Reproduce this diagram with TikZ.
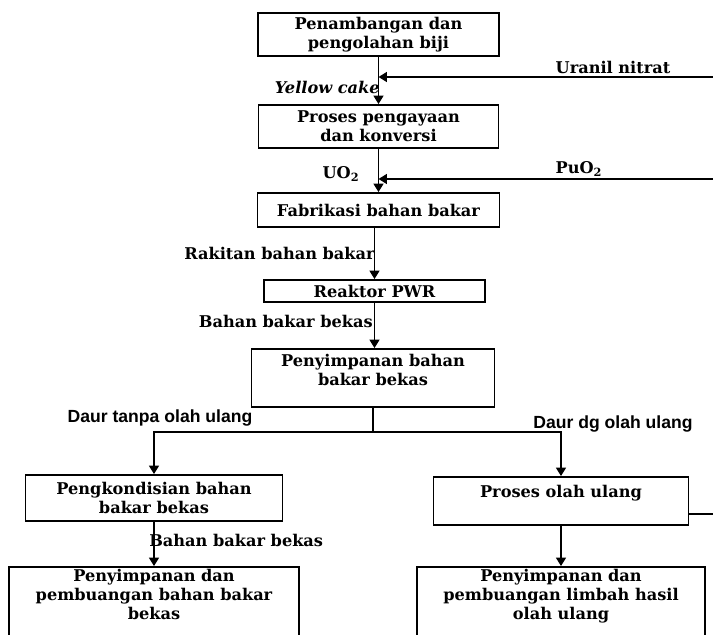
\documentclass[tikz,border=0pt]{standalone}
\usepackage{fontspec}
\setmainfont{DejaVu Serif}
\newfontfamily\labsans{Liberation Sans}
\usetikzlibrary{arrows.meta,positioning}

\begin{document}
\begin{tikzpicture}[
  x=0.025cm, y=-0.025cm,
  font=\fontsize{11.5}{13.5}\selectfont\bfseries,
  line width=1.3pt,
  box/.style={draw, rectangle, align=center, inner sep=1pt},
  wh/.style 2 args={minimum width=#1*0.7113pt, minimum height=#2*0.7113pt},
  arr/.style={-{Triangle[length=6pt,width=7pt]}},
  flow/.style={inner sep=1pt},
  cyc/.style={inner sep=1pt, font=\labsans\fontsize{12.5}{14}\selectfont\bfseries}]
\clip (0,0) rectangle (713,635);
% ---------------- front end of the cycle ----------------
\node[box, wh={241}{43}] (mine) at (378.5,34.5) {Penambangan dan\\ pengolahan biji};
\node[box, wh={240}{43}] (enrich) at (378.5,126.5) {Proses pengayaan\\ dan konversi};
\node[box, wh={242}{34}] (fab) at (378.5,210) {Fabrikasi bahan bakar};
\node[box, wh={221}{22}] (pwr) at (374.5,291) {Reaktor PWR};
\node[box, wh={243}{58}, text depth=11pt] (store) at (373,378) {Penyimpanan bahan\\ bakar bekas};
\draw[arr] (mine) -- (enrich);
\draw[arr] (enrich) -- (fab);
\draw[arr] (fab.south -| pwr.north) -- (pwr.north);
\draw[arr] (pwr.south) -- (pwr.south |- store.north);
% returns from reprocessing
\coordinate (un) at (713,77);
\coordinate (pu) at (713,179);
\draw[arr] (un) -- (un -| mine.south);
\draw[arr] (pu) -- (pu -| enrich.south);
\node[flow] (lun) at (613,67) {Uranil nitrat};
\node[flow, anchor=east, font=\fontsize{11.5}{13.5}\selectfont\bfseries\itshape] (lyc) at (382,87) {Yellow cake};
\node[flow] (luo) at (341,174) {UO\textsubscript{2}};
\node[flow] (lpu) at (579,169) {PuO\textsubscript{2}};
\node[flow, anchor=east] (lrak) at (377,253) {Rakitan bahan bakar};
\node[flow, anchor=east] (lbek) at (375,321) {Bahan bakar bekas};
% ---------------- back end: two options ----------------
\node[box, wh={257}{46}] (cond) at (154,498) {Pengkondisian bahan\\ bakar bekas};
\node[box, wh={255}{48}, text depth=14pt] (repro) at (561,501) {Proses olah ulang};
\node[box, wh={290}{92}, text depth=26pt] (dispA) at (154,613) {Penyimpanan dan\\ pembuangan bahan bakar\\ bekas};
\node[box, wh={288}{92}, text depth=26pt] (dispB) at (561,613) {Penyimpanan dan\\ pembuangan limbah hasil\\ olah ulang};
\coordinate (split) at (373,432);
\draw (store.south) -- (split);
\draw[arr] (split) -| (cond.north);
\draw[arr] (split) -| (repro.north);
\draw[arr] (cond) -- (dispA);
\draw[arr] (repro) -- (dispB);
\coordinate (recyc) at (713,514);
\draw (recyc -| repro.east) -- (recyc);
\node[cyc] (ltanpa) at (160,418) {Daur tanpa olah ulang};
\node[cyc] (ldg) at (613,424) {Daur dg olah ulang};
\node[flow, anchor=west] (lbek2) at (147,540) {Bahan bakar bekas};
\end{tikzpicture}
\end{document}
